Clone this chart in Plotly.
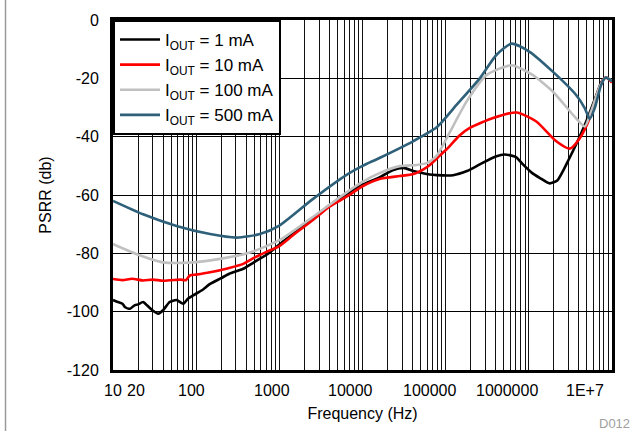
import plotly.graph_objects as go

# ---- data ----
f_1mA = [10, 11, 13, 14, 16, 18, 20, 23, 26, 30, 35, 40, 48, 58, 70, 80, 92, 120, 147, 200, 250,
         368, 500, 700, 1000, 1500, 2300, 4000, 6500, 10000, 16000, 23000, 31000, 41000, 49000,
         64000, 78000, 123000, 180000, 257000, 400000, 513000, 700000, 850000, 1100000, 1350000,
         1780000, 2200000, 2570000, 3000000, 3700000, 4900000, 6500000, 7400000, 8100000, 8600000,
         9200000, 10000000]
db_1mA = [-96, -96.5, -97.3, -98.5, -99, -97.9, -97.5, -96.7, -98, -99.6, -100.7, -99.5, -96.7, -96,
          -97.3, -95.5, -94.4, -92.5, -90.5, -88.5, -87, -85.3, -83, -80.5, -77, -73, -69, -63.5,
          -59.5, -56.5, -54, -51.5, -50.7, -51.8, -52.3, -53, -53.2, -53.2, -51.8, -49.5, -46.8,
          -46.1, -47, -49.5, -52.5, -54.1, -56, -55, -51.8, -48, -42.7, -34.8, -25.7, -21.5, -20,
          -19.7, -20.3, -21]

f_10mA = [10, 13, 17, 23, 30, 40, 58, 65, 75, 84, 100, 147, 250, 368, 500, 700, 1000, 1500, 2560,
          4000, 6500, 10000, 16000, 28000, 41000, 54000, 64000, 85000, 102000, 148000, 195000,
          372000, 711000, 1230000, 2140000, 3100000, 4100000, 5400000, 6800000, 8100000, 8600000,
          9300000, 10000000]
db_10mA = [-88.8, -89.2, -88.7, -89.3, -89, -89.4, -89.1, -89, -89.2, -87.6, -87.3, -86.5, -85,
           -83.6, -81.5, -79.5, -77.5, -73.5, -68.5, -64, -60.5, -57, -54.5, -53.5, -52.8, -51.2,
           -49.8, -46.5, -44.4, -39.5, -37, -33.6, -31.7, -34.8, -41.6, -44.1, -40.5, -33.6, -24.5,
           -20, -19.8, -20.5, -21.5]

f_100mA = [10, 19, 40, 92, 193, 443, 1000, 2400, 6500, 10000, 16000, 28000, 44700, 60000, 78000,
           112000, 178000, 309000, 620000, 1120000, 1940000, 3400000, 4700000, 5600000, 7200000,
           8400000, 9200000, 10000000]
db_100mA = [-76.8, -80.2, -83.1, -83.1, -81.9, -79.7, -75.5, -68, -59, -55.5, -52.5, -50.1, -49.7,
            -49, -46.5, -38.5, -28, -18.9, -15.5, -18.9, -24.5, -32.5, -36.5, -31.4, -22.5, -19.7,
            -20.2, -21]

f_500mA = [10, 23, 58, 147, 307, 585, 1000, 2500, 6500, 10000, 16000, 41000, 78000, 135000, 257000,
           407000, 620000, 1020000, 1940000, 3700000, 4700000, 5400000, 6200000, 7400000, 8400000,
           9200000, 10000000]
db_500mA = [-62, -66.6, -70.6, -73.4, -74.6, -73.4, -70.5, -61.5, -53, -50, -47.3, -41.5, -36.8,
            -29.1, -20, -12, -8.1, -10.9, -17.7, -25.7, -30.2, -33.9, -30.2, -22.3, -19.7, -20.3,
            -21]

series_names = ["I<sub>OUT</sub> = 1 mA", "I<sub>OUT</sub> = 10 mA",
                "I<sub>OUT</sub> = 100 mA", "I<sub>OUT</sub> = 500 mA"]
series_colors = ["#000000", "#ff0000", "#c0c0c0", "#2e6079"]

# x tick labels (in the reference they sit slightly left of their gridlines)
x_label_text = ["10", "20", "100", "1000", "10000", "100000", "1000000", "1E+7"]
x_label_pos = [0.001, 0.046, 0.157, 0.319, 0.475, 0.634, 0.790, 0.945]   # paper fraction
y_ticks = [0, -20, -40, -60, -80, -100, -120]

# gridline positions: every 1..9 x decade
grid_vals = []
for n in range(1, 7):
    for k in range(1, 10):
        grid_vals.append(k * 10 ** n)
grid_vals.append(10 ** 7)

fig = go.Figure()
data = [(f_1mA, db_1mA), (f_10mA, db_10mA), (f_100mA, db_100mA), (f_500mA, db_500mA)]
for (fx, dy), name, col in zip(data, series_names, series_colors):
    fig.add_trace(go.Scatter(x=fx, y=dy, mode="lines", name=name,
                             line=dict(color=col, width=2.6, shape="spline", smoothing=0.6)))

annotations = []
for txt, pos in zip(x_label_text, x_label_pos):
    annotations.append(dict(text=txt, xref="paper", yref="paper", x=pos, y=-0.058,
                            xanchor="center", yanchor="middle", showarrow=False,
                            font=dict(size=16, color="black")))
annotations.append(dict(text="D012", xref="paper", yref="paper", x=1.04, y=-0.152,
                        xanchor="right", yanchor="middle", showarrow=False,
                        font=dict(size=13, color="#a0a0a0")))

font_family = "Liberation Sans, Arial, sans-serif"
fig.update_layout(
    width=640, height=431,
    margin=dict(l=113, r=28, t=18, b=61),
    paper_bgcolor="white", plot_bgcolor="white",
    font=dict(family=font_family, size=16, color="black"),
    showlegend=True,
    legend=dict(x=0, y=1, xanchor="left", yanchor="top", bgcolor="white",
                bordercolor="black", borderwidth=2, font=dict(size=17),
                tracegroupgap=0, itemwidth=40),
    xaxis=dict(type="log", range=[1, 7], tickmode="array", tickvals=grid_vals,
               showticklabels=False, showgrid=True, gridcolor="#111111", gridwidth=1,
               ticks="", showline=True, linecolor="black", linewidth=3, mirror=True,
               zeroline=False,
               title=dict(text="Frequency (Hz)", standoff=36, font=dict(size=16))),
    yaxis=dict(range=[-120, 0], tickmode="array", tickvals=y_ticks,
               ticktext=[str(v) for v in y_ticks], showgrid=True, gridcolor="#000000",
               gridwidth=1, ticks="", showline=True, linecolor="black", linewidth=3,
               mirror=True, zeroline=False, ticklabelstandoff=8,
               title=dict(text="PSRR (db)", standoff=12, font=dict(size=16))),
    shapes=[dict(type="line", xref="paper", yref="paper", x0=-0.2154, x1=-0.2154,
                 y0=-0.18, y1=1.06, line=dict(color="#9a9a9a", width=1.5))],
    annotations=annotations,
)

fig.write_html("out.html")
